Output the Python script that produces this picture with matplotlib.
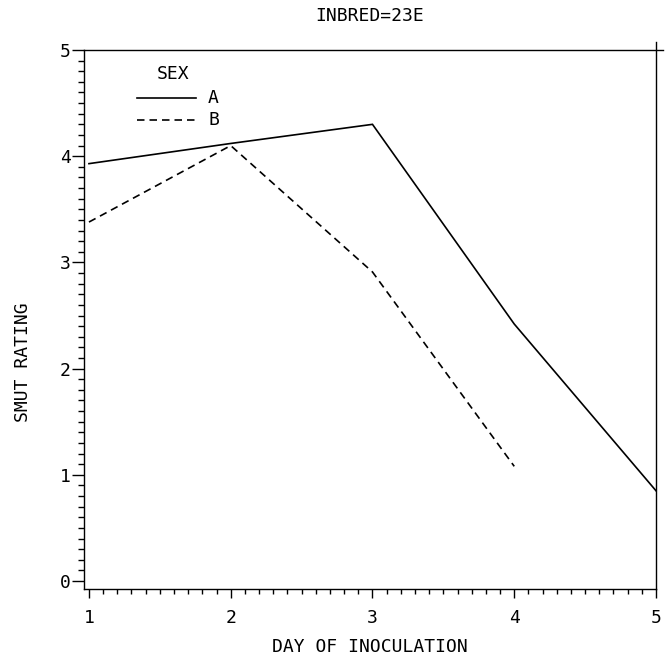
import matplotlib
matplotlib.use("Agg")
import matplotlib.pyplot as plt
from matplotlib.ticker import MultipleLocator
from matplotlib.lines import Line2D

days = [1, 2, 3, 4, 5]
sex_a = [3.93, 4.12, 4.30, 2.42, 0.85]
days_b = [1, 2, 3, 4]
sex_b = [3.38, 4.10, 2.91, 1.08]
title = "INBRED=23E"
xlabel = "DAY OF INOCULATION"
ylabel = "SMUT RATING"
legend_title = "SEX"
legend_labels = ["A", "B"]

plt.rcParams['font.family'] = ['DejaVu Sans Mono', 'DejaVu Sans']
fs = 13

fig = plt.figure(figsize=(6.72, 6.6), dpi=100)
ax = fig.add_axes([84/672, 1-589/660, 572/672, 539/660])

lw = 1.2
dash = (4.5, 3)
ax.plot(days, sex_a, color='black', lw=lw, solid_joinstyle='miter')
ax.plot(days_b, sex_b, color='black', lw=lw, dashes=dash)

ax.set_xlim(0.965, 5)
ax.set_ylim(-0.075, 5)

for s in ['top', 'right']:
    ax.spines[s].set_visible(False)
for s in ['left', 'bottom']:
    ax.spines[s].set_linewidth(1.0)

# top and right frame lines, slightly extended like the original
ax.add_line(Line2D([0, 1.012], [5, 5], transform=ax.get_yaxis_transform(),
                   color='black', lw=1.0, clip_on=False))
ax.add_line(Line2D([5, 5], [0, 1.015], transform=ax.get_xaxis_transform(),
                   color='black', lw=1.0, clip_on=False))

ax.xaxis.set_major_locator(MultipleLocator(1))
ax.xaxis.set_minor_locator(MultipleLocator(0.1))
ax.yaxis.set_major_locator(MultipleLocator(1))
ax.yaxis.set_minor_locator(MultipleLocator(0.1))
ax.tick_params(axis='x', which='major', direction='out', length=6.5, width=1.0,
               labelsize=fs, pad=8)
ax.tick_params(axis='x', which='minor', direction='out', length=3.5, width=1.0)
ax.tick_params(axis='y', which='major', direction='out', length=8.5, width=1.0,
               labelsize=fs, pad=1)
ax.tick_params(axis='y', which='minor', direction='out', length=4.3, width=1.0)

fig.text(370/672, 1-16/660, title, fontsize=fs, ha='center', va='center')
fig.text(370/672, 1-647/660, xlabel, fontsize=fs, ha='center', va='center')
ax.set_ylabel(ylabel, fontsize=fs)
ax.yaxis.set_label_coords(-0.091, 0.42)

# legend drawn in axes coordinates
ax.text(0.156, 0.955, legend_title, transform=ax.transAxes, fontsize=fs,
        ha='center', va='center')
ax.plot([0.093, 0.196], [0.911, 0.911], transform=ax.transAxes,
        color='black', lw=lw)
ax.plot([0.093, 0.196], [0.870, 0.870], transform=ax.transAxes,
        color='black', lw=lw, dashes=dash)
ax.text(0.217, 0.911, legend_labels[0], transform=ax.transAxes, fontsize=fs,
        ha='left', va='center')
ax.text(0.217, 0.870, legend_labels[1], transform=ax.transAxes, fontsize=fs,
        ha='left', va='center')

fig.savefig("out.png", dpi=100)
